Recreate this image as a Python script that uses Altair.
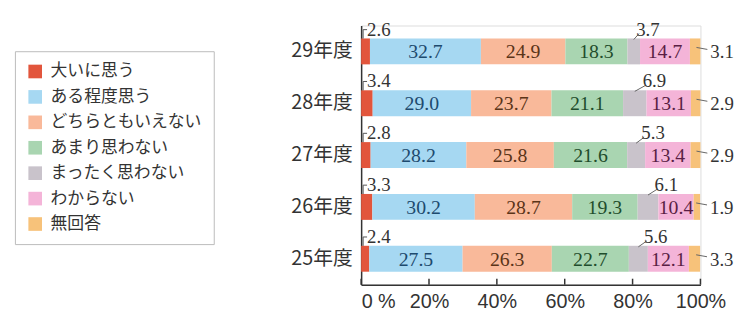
import altair as alt
import pandas as pd

years = ["29年度", "28年度", "27年度", "26年度", "25年度"]
categories = ["大いに思う", "ある程度思う", "どちらともいえない", "あまり思わない",
              "まったく思わない", "わからない", "無回答"]
colors = ["#e2553c", "#a6d8f2", "#f9b99a", "#a9d5b1", "#c9c3cb", "#f4b4d8", "#f7c27a"]
text_colors = ["#333333", "#1d4a6e", "#5a3418", "#1f4d2c", "#333333", "#5a1e44", "#333333"]
values = {
    "29年度": [2.6, 32.7, 24.9, 18.3, 3.7, 14.7, 3.1],
    "28年度": [3.4, 29.0, 23.7, 21.1, 6.9, 13.1, 2.9],
    "27年度": [2.8, 28.2, 25.8, 21.6, 5.3, 13.4, 2.9],
    "26年度": [3.3, 30.2, 28.7, 19.3, 6.1, 10.4, 1.9],
    "25年度": [2.4, 27.5, 26.3, 22.7, 5.6, 12.1, 3.3],
}
ticks = [0, 20, 40, 60, 80, 100]

rows = []
for y in years:
    cum = 0.0
    for i, (c, v) in enumerate(zip(categories, values[y])):
        rows.append({"year": y, "cat": c, "order": i, "v": v, "start": cum,
                     "end": cum + v, "mid": cum + v / 2, "label": f"{v:.1f}",
                     "tcolor": text_colors[i]})
        cum += v
df = pd.DataFrame(rows)
df["end_c"] = df["end"].clip(upper=100)

W, H = 343, 262
JP = "Noto Sans CJK JP"
NUM = "Liberation Sans Narrow"

yenc = alt.Y("year:N", sort=years, title=None,
             scale=alt.Scale(paddingInner=0.5, paddingOuter=0.25),
             axis=alt.Axis(labelFont=JP, labelFontSize=20, labelColor="#333333",
                           ticks=False, labelPadding=9, domainColor="#333333",
                           domainWidth=1.5))
xscale = alt.Scale(domain=[0, 100], nice=False)

bars = alt.Chart(df).mark_bar().encode(
    x=alt.X("start:Q", scale=xscale, title=None,
            axis=alt.Axis(values=ticks, ticks=False, grid=False,
                          labelExpr="datum.value == 0 ? '0 %' : datum.value + '%'",
                          labelAlign=alt.expr("datum.value == 0 ? 'left' : 'center'"),
                          labelFont="Liberation Sans", labelFontSize=20,
                          labelColor="#333333", labelPadding=7,
                          domainColor="#333333", domainWidth=1.5)),
    x2="end_c:Q",
    y=yenc,
    color=alt.Color("cat:N", sort=categories,
                    scale=alt.Scale(domain=categories, range=colors),
                    legend=alt.Legend(title=None, orient="none", legendX=-350, legendY=26,
                                      labelFont=JP, labelFontSize=17, labelColor="#333333",
                                      symbolType="square", symbolSize=190,
                                      symbolStrokeWidth=0, rowPadding=7.7, labelOffset=7,
                                      padding=12, strokeColor="#bbbbbb",
                                      fillColor="#ffffff", labelLimit=300)),
    order="order:Q",
)

inside = alt.Chart(df).transform_filter(
    "datum.order >= 1 && datum.order <= 5 && datum.order != 4"
).mark_text(font=NUM, fontSize=20, baseline="middle", dy=1).encode(
    x=alt.X("mid:Q", scale=xscale), y=alt.Y("year:N", sort=years),
    text="label:N", color=alt.Color("tcolor:N", scale=None))

first_lab = alt.Chart(df).transform_filter("datum.order == 0").mark_text(
    font=NUM, fontSize=19, align="left", baseline="middle", dx=6, dy=-22,
    color="#333333").encode(
    x=alt.X("start:Q", scale=xscale), y=alt.Y("year:N", sort=years), text="label:N")
first_v = alt.Chart(df).transform_filter("datum.order == 0").mark_rule(
    color="#555555", strokeWidth=1, yOffset=-22, y2Offset=-13, xOffset=2, x2Offset=2).encode(
    x=alt.X("start:Q", scale=xscale), x2="start:Q",
    y=alt.Y("year:N", sort=years), y2="year:N")
first_h = alt.Chart(df).transform_filter("datum.order == 0").mark_rule(
    color="#555555", strokeWidth=1, yOffset=-22, y2Offset=-22, xOffset=2, x2Offset=6).encode(
    x=alt.X("start:Q", scale=xscale), x2="start:Q",
    y=alt.Y("year:N", sort=years), y2="year:N")

gray_lab = alt.Chart(df).transform_filter("datum.order == 4").mark_text(
    font=NUM, fontSize=19, align="center", baseline="middle", dx=8, dy=-22,
    color="#333333").encode(
    x=alt.X("end:Q", scale=xscale), y=alt.Y("year:N", sort=years), text="label:N")
gray_lead = alt.Chart(df).transform_filter("datum.order == 4").mark_rule(
    color="#666666", strokeWidth=1, yOffset=-12, y2Offset=-18, x2Offset=-1).encode(
    x=alt.X("mid:Q", scale=xscale), x2="end:Q",
    y=alt.Y("year:N", sort=years), y2="year:N")

last_lab = alt.Chart(df).transform_filter("datum.order == 6").mark_text(
    font=NUM, fontSize=19, align="left", baseline="middle", dx=10, dy=1,
    color="#333333").encode(
    x=alt.X("end_c:Q", scale=xscale), y=alt.Y("year:N", sort=years), text="label:N")
last_lead = alt.Chart(df).transform_filter("datum.order == 6").mark_rule(
    color="#666666", strokeWidth=1, yOffset=-4, y2Offset=-2, xOffset=-4, x2Offset=7).encode(
    x=alt.X("end_c:Q", scale=xscale), x2="end_c:Q",
    y=alt.Y("year:N", sort=years), y2="year:N")

tick_df = pd.DataFrame({"t": ticks})
xticks = alt.Chart(tick_df).mark_rule(color="#333333", strokeWidth=1.5).encode(
    x=alt.X("t:Q", scale=xscale), y=alt.value(H), y2=alt.value(H - 6))

chart = alt.layer(bars, inside, first_v, first_h, first_lab, gray_lead, gray_lab,
                  last_lead, last_lab, xticks).properties(
    width=W, height=H,
    autosize=alt.AutoSizeParams(type="none"),
    padding={"left": 357, "top": 16, "right": 40, "bottom": 30},
).configure_view(stroke=None).configure(background="#ffffff")

chart.save("out.html", embed_options={"renderer": "svg", "actions": False})
